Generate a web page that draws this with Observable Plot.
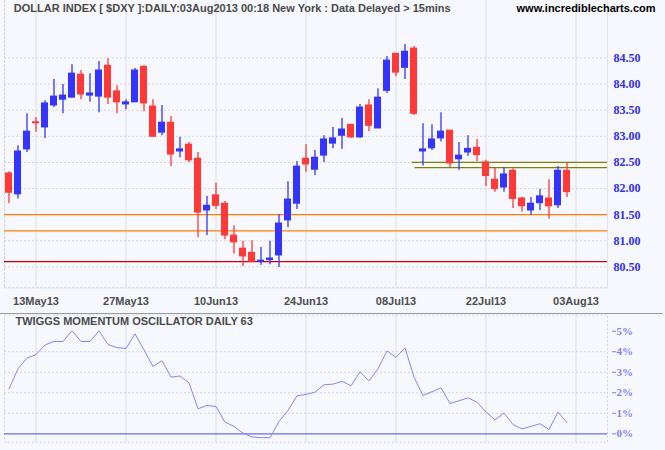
<!DOCTYPE html>
<html><head><meta charset="utf-8">
<script src="https://cdn.jsdelivr.net/npm/d3@7"></script>
<script src="https://cdn.jsdelivr.net/npm/@observablehq/plot@0.6"></script>
<style>
body{margin:0;background:#f7f8fd;}
#sep{width:663px;height:1px;background:#9a9a9a;}
svg{display:block;}
#priceChart g[aria-label="y-axis tick label"]{font-family:"Liberation Serif",serif;font-weight:bold;font-size:12px;}
#oscChart g[aria-label="y-axis tick label"]{font-family:"Liberation Serif",serif;font-weight:bold;font-size:11px;}
#priceChart g[aria-label="x-axis tick label"]{font-family:"Liberation Sans",sans-serif;font-weight:bold;font-size:11px;}
#priceChart g[aria-label="text"], #oscChart g[aria-label="text"]{font-family:"Liberation Sans",sans-serif;font-weight:bold;font-size:11px;}
</style></head><body>
<div id="priceChart"></div><div id="sep"></div><div id="oscChart"></div>
<script>
// Daily OHLC, 8 May 2013 .. 2 Aug 2013 (trading-day index 0..62)
const openP  = [82.29,81.89,82.75,83.27,83.17,83.59,83.70,83.74,84.18,83.78,83.76,84.35,83.86,83.61,83.65,84.33,83.57,83.07,83.26,82.71,82.84,82.57,81.58,81.87,81.71,81.10,80.85,80.77,80.60,80.63,80.72,81.39,81.71,82.57,82.36,82.63,82.86,83.01,83.22,82.98,83.59,83.15,83.87,84.58,84.31,84.68,82.71,82.77,82.96,83.11,82.56,82.69,82.78,82.50,82.17,82.02,82.34,81.81,81.58,81.72,81.81,81.68,82.34];
const highP  = [82.32,82.82,83.43,83.36,83.68,84.09,83.99,84.37,84.26,84.20,84.43,84.49,83.97,83.70,84.30,84.35,83.70,83.59,83.38,82.98,82.88,82.69,81.85,82.10,81.75,81.29,80.99,81.00,80.87,80.99,81.50,82.13,82.52,82.84,82.73,83.01,83.17,83.34,83.22,83.61,83.70,83.91,84.53,84.58,84.76,84.72,83.24,83.22,83.45,83.11,82.88,83.01,82.94,82.54,82.39,82.40,82.38,81.83,81.83,81.98,82.17,82.42,82.48];
const lowP   = [81.71,81.80,82.69,83.08,82.96,83.55,83.43,83.74,83.70,83.65,83.45,83.61,83.43,83.51,83.65,83.47,82.98,83.01,82.42,82.59,82.50,81.06,81.10,81.60,81.02,80.74,80.51,80.60,80.53,80.54,80.49,81.25,81.60,82.31,82.25,82.50,82.76,82.75,82.96,82.96,83.09,83.15,83.82,84.14,84.09,83.40,82.43,82.73,82.89,82.40,82.35,82.62,82.52,82.04,81.93,81.93,81.62,81.55,81.49,81.58,81.41,81.62,81.83];
const closeP = [81.92,82.71,83.09,83.25,83.63,83.76,83.78,84.20,83.80,83.82,84.26,83.74,83.65,83.65,84.26,83.63,82.99,83.26,82.65,82.75,82.54,81.54,81.67,81.67,81.10,80.97,80.70,80.60,80.62,80.66,81.33,81.79,82.42,82.46,82.59,82.94,82.96,83.13,82.98,83.55,83.20,83.74,84.45,84.22,84.62,83.43,82.75,82.94,83.09,82.48,82.63,82.76,82.64,82.24,81.99,82.27,81.80,81.66,81.71,81.85,81.66,82.34,81.93];

// Twiggs Momentum Oscillator (63), percent
const momentum = [2.19,3.17,3.69,3.86,4.33,4.50,4.50,5.02,4.50,4.50,5.02,4.35,4.20,4.16,4.87,4.09,3.28,3.56,2.76,2.82,2.48,1.22,1.38,1.33,0.57,0.36,0.03,-0.15,-0.19,-0.19,0.60,1.14,1.85,1.92,2.03,2.39,2.42,2.56,2.34,3.02,2.58,3.17,4.04,3.72,4.19,2.76,1.87,2.05,2.24,1.48,1.61,1.75,1.54,1.06,0.68,1.01,0.45,0.24,0.36,0.49,0.21,1.06,0.54];

const tickIndex  = [3,13,23,33,43,53,63];
const tickLabels = ["13May13","27May13","10Jun13","24Jun13","08Jul13","22Jul13","03Aug13"];
const priceTicks = [80.5,81.0,81.5,82.0,82.5,83.0,83.5,84.0,84.5];
const momTicks   = [0,1,2,3,4,5];
const momGrid    = [1,2,3,4];

// drawn support / resistance lines
const orangeLevels = [81.50, 81.19];
const redLevels    = [80.60];
const oliveLevels  = [82.50, 82.40];
const oliveStart   = [44.8, 45.1];

const titleText = "DOLLAR INDEX [ $DXY ]:DAILY:03Aug2013 00:18 New York : Data Delayed > 15mins";
const siteText  = "www.incrediblecharts.com";
const oscTitle  = "TWIGGS MOMENTUM OSCILLATOR DAILY 63";

const BLUE = "#3434fc", RED = "#ff3838";
const xDomain = [-0.5, 66.5];
const candles = openP.map((o, i) => ({i, o, h: highP[i], l: lowP[i], c: closeP[i], up: closeP[i] >= o}));
const olive = oliveLevels.map((v, k) => ({y: v, x1: oliveStart[k], x2: xDomain[1]}));
const SANS = "Liberation Sans";
const SERIF = "Liberation Serif";

const priceSvg = Plot.plot({
  width: 665, height: 313,
  marginLeft: 4, marginRight: 58, marginTop: 0, marginBottom: 25.7,
  style: {background: "transparent"},
  x: {domain: xDomain},
  y: {domain: [80.1, 85.6]},
  marks: [
    Plot.ruleX(tickIndex, {stroke: "#e2e3ea", strokeWidth: 1.3}),
    Plot.ruleY(priceTicks, {stroke: "#d4d4d8", strokeDasharray: "2,2"}),
    Plot.frame({anchor: "left", stroke: "#d4d4d8", strokeDasharray: "2,2"}),
    Plot.frame({anchor: "bottom", stroke: "#d4d4d8", strokeDasharray: "2,2"}),
    Plot.frame({anchor: "right", stroke: "#e2e3ea"}),
    Plot.ruleY(orangeLevels, {stroke: "#ff8000", strokeWidth: 1.3}),
    Plot.ruleY(redLevels, {stroke: "#cc0000", strokeWidth: 1.3}),
    Plot.ruleY(olive, {y: "y", x1: "x1", x2: "x2", stroke: "#808000", strokeWidth: 1.3}),
    Plot.ruleX(candles, {x: "i", y1: "l", y2: "h", stroke: d => d.up ? BLUE : RED, strokeWidth: 1.3}),
    Plot.rect(candles, {
      x1: d => d.i - 0.39, x2: d => d.i + 0.39,
      y1: d => Math.min(d.o, d.c), y2: d => Math.max(d.o, d.c),
      fill: d => d.up ? BLUE : RED, insetTop: -0.5, insetBottom: -0.5
    }),
    Plot.axisY(priceTicks, {anchor: "right", tickSize: 0, tickPadding: 6, tickFormat: d => d.toFixed(2),
      fill: "#3030ee", fontFamily: SERIF, fontWeight: "bold", fontSize: 12}),
    Plot.axisX(tickIndex, {anchor: "bottom", tickSize: 0, tickPadding: 9,
      tickFormat: d => tickLabels[tickIndex.indexOf(d)],
      fill: "#4d4d4d", fontFamily: SANS, fontWeight: "bold", fontSize: 11}),
    Plot.text([titleText], {frameAnchor: "top-left", dx: 9.3, dy: 7.5, textAnchor: "start", lineAnchor: "middle",
      fill: "#4a4a4a", fontFamily: SANS, fontWeight: "bold", fontSize: 11}),
    Plot.text([siteText], {frameAnchor: "top-right", dx: 48, dy: 7.5, textAnchor: "end", lineAnchor: "middle",
      fill: "#000", fontFamily: SANS, fontWeight: "bold", fontSize: 11})
  ]
});
document.getElementById("priceChart").appendChild(priceSvg);

const oscSvg = Plot.plot({
  width: 665, height: 136,
  marginLeft: 4, marginRight: 58, marginTop: 0.5, marginBottom: 8.3,
  style: {background: "transparent"},
  x: {domain: xDomain, axis: null},
  y: {domain: [-0.41, 5.79]},
  marks: [
    Plot.ruleX(tickIndex, {stroke: "#e2e3ea", strokeWidth: 1.3}),
    Plot.ruleY(momGrid, {stroke: "#d4d4d8", strokeDasharray: "2,2"}),
    Plot.frame({stroke: "#d4d4d8", strokeDasharray: "2,2"}),
    Plot.ruleY([0], {stroke: "#6e6ed8", strokeWidth: 1.3}),
    Plot.line(momentum, {x: (d, i) => i, y: d => d, stroke: "#8585ff", strokeWidth: 1}),
    Plot.axisY(momTicks, {anchor: "right", tickSize: 4, dx: 4, tickPadding: 1, tickFormat: d => d + "%",
      color: "#8080ff", fontFamily: SERIF, fontWeight: "bold", fontSize: 11}),
    Plot.text([oscTitle], {frameAnchor: "top-left", dx: 11, dy: 6.5, textAnchor: "start", lineAnchor: "middle",
      fill: "#4a4a4a", fontFamily: SANS, fontWeight: "bold", fontSize: 11})
  ]
});
document.getElementById("oscChart").appendChild(oscSvg);
</script>
</body></html>
